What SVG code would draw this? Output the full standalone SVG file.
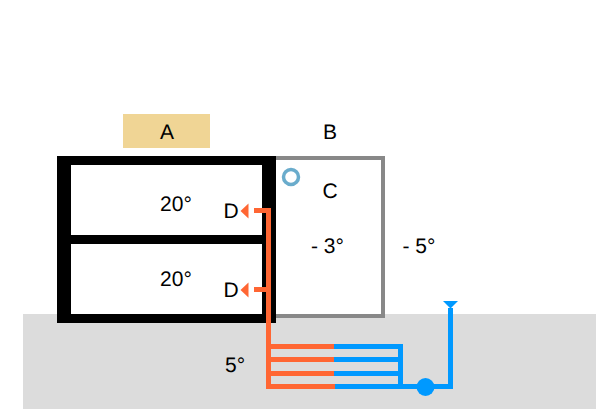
<svg xmlns="http://www.w3.org/2000/svg" width="596" height="409" viewBox="0 0 596 409">
<style>
text{font-family:"Liberation Sans",Arial,sans-serif;font-size:21px;fill:#000;text-anchor:middle;text-rendering:geometricPrecision}
.o{fill:none;stroke:#ff6633;stroke-width:5}
.b{fill:none;stroke:#0099ff;stroke-width:5}
</style>
<rect width="596" height="409" fill="#fff"/>
<rect id="ground" x="23" y="314" width="573" height="95" fill="#dcdcdc"/>
<g id="B">
<rect x="270" y="158" width="113" height="158" fill="#fff" stroke="#888" stroke-width="4"/>
<text x="330" y="139">B</text>
</g>
<g id="A">
<rect x="123" y="114" width="87" height="34" fill="#f0d595"/>
<text x="167" y="139">A</text>
<path d="M57 156H276V323H57ZM71 165V235H262V165ZM71 244V314H262V244Z" fill="#000" fill-rule="evenodd"/>
</g>
<g id="C">
<circle cx="291" cy="177" r="7.500" fill="none" stroke="#6aaccc" stroke-width="3.500"/>
<text x="330" y="198">C</text>
</g>
<g id="t1"><text x="176" y="211">20°</text></g>
<g id="t2"><text x="176" y="286">20°</text></g>
<g id="t3"><text x="327.500" y="253">- 3°</text></g>
<g id="t4"><text x="419" y="253">- 5°</text></g>
<g id="t5"><text x="235" y="372">5°</text></g>
<g id="D1"><text x="231" y="218">D</text><path d="M240.500 211L248.500 203.500V218.500Z" fill="#ff6633"/></g>
<g id="D2"><text x="231" y="297">D</text><path d="M240.500 290L248.500 282.500V297.500Z" fill="#ff6633"/></g>
<g id="connectors">
<path class="b" d="M334 346.500H400.500V386.500M334 359.500H400.500M334 373.500H400.500M334 386.500H450.500V308"/>
<path class="o" d="M254 210.500H268.500V386.500H335M254 289.500H268.500M268.500 346.500H334M268.500 359.500H334M268.500 373.500H334"/>
<circle cx="425.500" cy="387" r="9" fill="#0099ff"/>
<path d="M443 301H458L450.500 308.500Z" fill="#0099ff"/>
</g>
</svg>
